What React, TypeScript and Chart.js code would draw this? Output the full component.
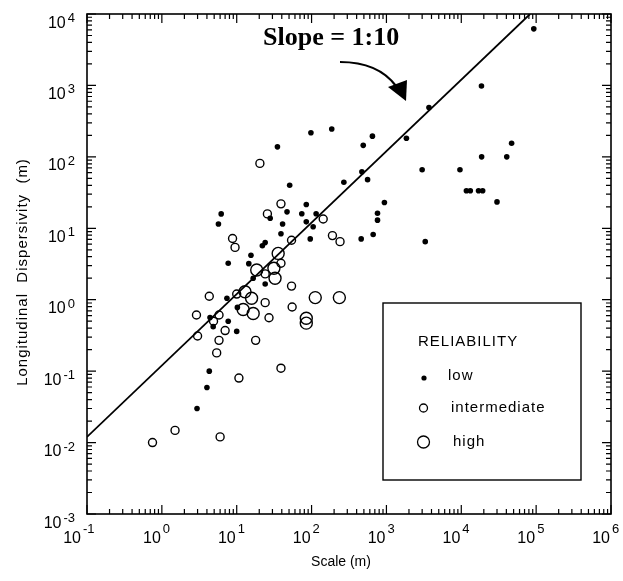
import { useEffect, useRef } from 'react';
import { Chart, registerables } from 'chart.js';

Chart.register(...registerables);

// ---- Data (scale in m, longitudinal dispersivity in m) ----
const lowScale = [93000, 18600, 47000, 18700, 40500, 9600, 11700, 13200, 17000, 19300, 30000, 3700, 186, 650, 490, 1850, 3000, 470, 270, 560, 940, 760, 760, 460, 665, 3300, 98, 85, 74, 115, 85, 105, 96, 35, 51, 47, 28, 6.2, 5.7, 41, 39, 24, 22, 15.5, 7.7, 14.5, 16.6, 24, 7.4, 10.2, 4.4, 4.85, 7.7, 10, 4.3, 4.0, 2.95];
const lowDisp = [6200, 980, 155, 100, 100, 66, 33.5, 33.5, 33.5, 33.5, 23.4, 490, 245, 195, 145, 182, 66, 62, 44, 48, 23, 16.2, 13, 7.1, 8.2, 6.5, 218, 21.5, 16, 16, 12.3, 10.5, 7.1, 138, 40, 17, 13.8, 15.9, 11.5, 11.5, 8.4, 6.3, 5.7, 4.2, 3.24, 3.2, 2.0, 1.66, 1.05, 0.78, 0.565, 0.42, 0.5, 0.36, 0.10, 0.059, 0.030];

const interScale = [143, 190, 240, 20.4, 39, 25.7, 8.8, 9.5, 54, 39, 24, 54, 55, 24, 27, 10, 4.3, 2.9, 3.0, 4.9, 5.8, 7.0, 5.8, 5.4, 10.7, 17.9, 39, 1.5, 0.75, 6.0];
const interDisp = [13.5, 7.9, 6.5, 81, 22, 15.9, 7.2, 5.4, 6.8, 3.24, 2.3, 1.55, 0.79, 0.91, 0.56, 1.2, 1.12, 0.61, 0.31, 0.5, 0.61, 0.37, 0.27, 0.18, 0.08, 0.27, 0.11, 0.0148, 0.0100, 0.012];

const highScale = [112, 235, 85, 85, 35.8, 31.4, 32.5, 18.5, 12.9, 15.8, 12.2, 16.6];
const highDisp = [1.07, 1.07, 0.55, 0.47, 4.45, 2.76, 2.0, 2.6, 1.29, 1.05, 0.73, 0.64];

// slope 1:10 reference line end points
const lineScale = [0.1, 83000];
const lineDisp = [0.012, 10000];

const xTickExps = [-1, 0, 1, 2, 3, 4, 5, 6];
const yTickExps = [-3, -2, -1, 0, 1, 2, 3, 4];
const minorMults = [2, 3, 4, 5, 6, 7, 8, 9];

const legendLabels = ['low', 'intermediate', 'high'];

const pts = (xs: number[], ys: number[]) => xs.map((x, i) => ({ x, y: ys[i] }));

const SANS = '"Liberation Sans", Arial, Helvetica, sans-serif';

const decorPlugin = {
  id: 'decor',
  afterDraw(chart: any) {
    const ctx: CanvasRenderingContext2D = chart.ctx;
    const { left, right, top, bottom } = chart.chartArea;
    const xs = chart.scales.x;
    const ys = chart.scales.y;
    ctx.save();
    ctx.strokeStyle = '#000';
    ctx.fillStyle = '#000';
    // frame
    ctx.lineWidth = 1.6;
    ctx.strokeRect(left, top, right - left, bottom - top);

    // ticks
    ctx.lineWidth = 1.2;
    const majorLen = 9;
    const minorLen = 5;
    xTickExps.forEach((e) => {
      const p = xs.getPixelForValue(Math.pow(10, e));
      ctx.beginPath();
      ctx.moveTo(p, bottom); ctx.lineTo(p, bottom - majorLen);
      ctx.moveTo(p, top); ctx.lineTo(p, top + majorLen);
      ctx.stroke();
      if (e < xTickExps[xTickExps.length - 1]) {
        minorMults.forEach((m) => {
          const q = xs.getPixelForValue(m * Math.pow(10, e));
          ctx.beginPath();
          ctx.moveTo(q, bottom); ctx.lineTo(q, bottom - minorLen);
          ctx.moveTo(q, top); ctx.lineTo(q, top + minorLen);
          ctx.stroke();
        });
      }
    });
    yTickExps.forEach((e) => {
      const p = ys.getPixelForValue(Math.pow(10, e));
      ctx.beginPath();
      ctx.moveTo(left, p); ctx.lineTo(left + majorLen, p);
      ctx.moveTo(right, p); ctx.lineTo(right - majorLen, p);
      ctx.stroke();
      if (e < yTickExps[yTickExps.length - 1]) {
        minorMults.forEach((m) => {
          const q = ys.getPixelForValue(m * Math.pow(10, e));
          ctx.beginPath();
          ctx.moveTo(left, q); ctx.lineTo(left + minorLen, q);
          ctx.moveTo(right, q); ctx.lineTo(right - minorLen, q);
          ctx.stroke();
        });
      }
    });

    // tick labels
    const baseFont = `16px ${SANS}`;
    const expFont = `13px ${SANS}`;
    ctx.textBaseline = 'alphabetic';
    xTickExps.forEach((e) => {
      const p = xs.getPixelForValue(Math.pow(10, e));
      const shift = e < 0 ? -5 : 0;
      ctx.font = baseFont;
      ctx.textAlign = 'right';
      ctx.fillText('10', p - 1 + shift, 543);
      ctx.font = expFont;
      ctx.textAlign = 'left';
      ctx.fillText(String(e), p + 1 + shift, 533);
    });
    yTickExps.forEach((e) => {
      const p = ys.getPixelForValue(Math.pow(10, e));
      ctx.font = expFont;
      ctx.textAlign = 'right';
      const s = String(e);
      ctx.fillText(s, 75, p + 8);
      const w = ctx.measureText(s).width;
      ctx.font = baseFont;
      ctx.fillText('10', 75 - w - 2, p + 13.5);
    });

    // axis titles
    ctx.font = `14px ${SANS}`;
    ctx.textAlign = 'center';
    ctx.fillText('Scale (m)', 341, 566);
    ctx.save();
    ctx.translate(27, 272);
    ctx.rotate(-Math.PI / 2);
    ctx.font = `15px ${SANS}`;
    (ctx as any).letterSpacing = '1px';
    ctx.fillText('Longitudinal  Dispersivity  (m)', 0, 0);
    ctx.restore();

    // slope annotation
    ctx.font = `bold 26px "Liberation Serif", "Times New Roman", serif`;
    ctx.textAlign = 'left';
    ctx.fillText('Slope = 1:10', 263, 45);
    ctx.lineWidth = 2.2;
    ctx.beginPath();
    ctx.moveTo(340, 62);
    ctx.quadraticCurveTo(378, 62, 396, 86);
    ctx.stroke();
    ctx.beginPath();
    ctx.moveTo(388, 87);
    ctx.lineTo(407, 80);
    ctx.lineTo(406, 101);
    ctx.closePath();
    ctx.fill();

    // legend
    ctx.lineWidth = 1.4;
    ctx.strokeRect(383, 303, 198, 177);
    ctx.font = `15px ${SANS}`;
    (ctx as any).letterSpacing = '1px';
    ctx.textAlign = 'left';
    ctx.fillText('RELIABILITY', 418, 346);
    ctx.fillText(legendLabels[0], 448, 380);
    ctx.fillText(legendLabels[1], 451, 412);
    ctx.fillText(legendLabels[2], 453, 446);
    (ctx as any).letterSpacing = '0px';
    ctx.beginPath();
    ctx.arc(424, 378, 2.6, 0, Math.PI * 2);
    ctx.fill();
    ctx.lineWidth = 1.3;
    ctx.beginPath();
    ctx.arc(423.5, 408, 4, 0, Math.PI * 2);
    ctx.stroke();
    ctx.beginPath();
    ctx.arc(423.5, 442, 6, 0, Math.PI * 2);
    ctx.stroke();
    ctx.restore();
  },
};

export default function App() {
  const ref = useRef<HTMLCanvasElement>(null);
  useEffect(() => {
    if (!ref.current) return;
    const chart = new Chart(ref.current, {
      type: 'scatter',
      data: {
        datasets: [
          {
            label: 'slope',
            data: pts(lineScale, lineDisp),
            showLine: true,
            borderColor: '#000',
            borderWidth: 1.8,
            pointRadius: 0,
            order: 0,
          },
          {
            label: legendLabels[0],
            data: pts(lowScale, lowDisp),
            pointRadius: 2.8,
            pointBackgroundColor: '#000',
            pointBorderColor: '#000',
            pointBorderWidth: 0,
            order: 1,
          },
          {
            label: legendLabels[1],
            data: pts(interScale, interDisp),
            pointRadius: 4,
            pointBackgroundColor: 'rgba(0,0,0,0)',
            pointBorderColor: '#000',
            pointBorderWidth: 1.4,
            order: 2,
          },
          {
            label: legendLabels[2],
            data: pts(highScale, highDisp),
            pointRadius: 6,
            pointBackgroundColor: 'rgba(0,0,0,0)',
            pointBorderColor: '#000',
            pointBorderWidth: 1.4,
            order: 3,
          },
        ],
      } as any,
      options: {
        responsive: false,
        animation: false,
        layout: { padding: { left: 87, top: 14, right: 12, bottom: 67 } },
        scales: {
          x: { type: 'logarithmic', min: 0.1, max: 1e6, display: false },
          y: { type: 'logarithmic', min: 0.001, max: 1e4, display: false },
        },
        plugins: { legend: { display: false }, tooltip: { enabled: false } },
      } as any,
      plugins: [decorPlugin],
    });
    return () => chart.destroy();
  }, []);
  return (
    <div style={{ position: 'fixed', left: 0, top: 0, width: 623, height: 581, background: '#fff' }}>
      <canvas ref={ref} width={623} height={581} style={{ display: 'block' }} />
    </div>
  );
}
